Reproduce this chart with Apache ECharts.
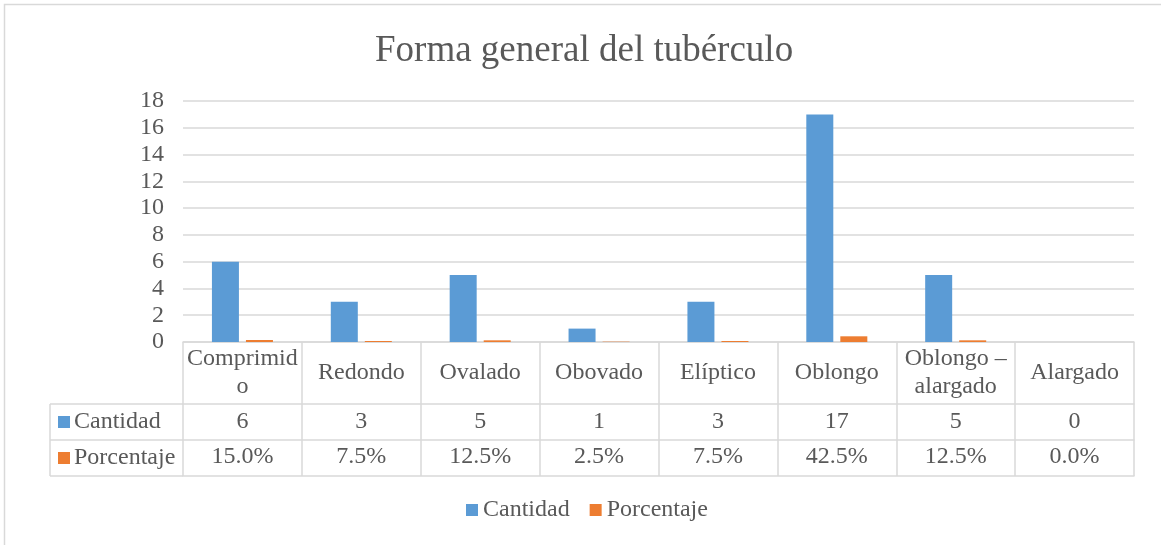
<!DOCTYPE html>
<html>
<head>
<meta charset="utf-8">
<script src="https://cdn.jsdelivr.net/npm/echarts@6/dist/echarts.min.js"></script>
<style>html,body{margin:0;padding:0;background:#fff}#c{width:1161px;height:545px}</style>
</head>
<body>
<div id="c"></div>
<script>
const categories = ['Comprimido', 'Redondo', 'Ovalado', 'Obovado', 'Elíptico', 'Oblongo', 'Oblongo – alargado', 'Alargado'];
const cantidad = [6, 3, 5, 1, 3, 17, 5, 0];
const porcentaje = [0.15, 0.075, 0.125, 0.025, 0.075, 0.425, 0.125, 0];
const yTicks = { min: 0, max: 18, interval: 2 };
const seriesNames = ['Cantidad', 'Porcentaje'];

const FONT = 'Liberation Serif';
const TXT = '#595959';
const LINE = '#D9D9D9';
const BLUE = '#5B9BD5';
const ORANGE = '#ED7D31';
const FS = 24;

const wrapLabel = v => v === 'Comprimido' ? 'Comprimid\no' : v.replace(' – ', ' –\n');
const pct = v => (v * 100).toFixed(1) + '%';

const chart = echarts.init(document.getElementById('c'), null, { renderer: 'canvas' });

const baseX = {
  type: 'category',
  data: categories,
  position: 'bottom',
  axisLine: { show: true, lineStyle: { color: LINE, width: 1.5 } },
  axisTick: { show: false },
  splitLine: { show: false }
};

chart.setOption({
  animation: false,
  backgroundColor: '#fff',
  textStyle: { fontFamily: FONT },
  title: {
    text: 'Forma general del tubérculo',
    left: 370,
    top: 28,
    textStyle: { fontFamily: FONT, fontSize: 37, fontWeight: 'normal', color: TXT }
  },
  legend: {
    top: 498,
    left: 466,
    padding: 0,
    icon: 'rect',
    itemWidth: 12,
    itemHeight: 12,
    itemGap: 20,
    data: seriesNames,
    textStyle: { fontFamily: FONT, fontSize: FS, color: TXT }
  },
  grid: { left: 183, right: 27, top: 101, bottom: 203, containLabel: false },
  xAxis: [
    Object.assign({}, baseX, {
      axisTick: { show: true, interval: 0, alignWithLabel: false, length: 134, lineStyle: { color: LINE, width: 1.5 } },
      axisLabel: {
        interval: 0, formatter: wrapLabel, fontFamily: FONT, fontSize: FS, color: TXT,
        verticalAlign: 'middle', margin: 31, lineHeight: 28
      }
    }),
    Object.assign({}, baseX, {
      offset: 62,
      axisLabel: {
        interval: 0, formatter: (v, i) => String(cantidad[i]), fontFamily: FONT, fontSize: FS, color: TXT,
        verticalAlign: 'middle', margin: 18
      }
    }),
    Object.assign({}, baseX, {
      offset: 98,
      axisLabel: {
        interval: 0, formatter: (v, i) => pct(porcentaje[i]), fontFamily: FONT, fontSize: FS, color: TXT,
        verticalAlign: 'middle', margin: 17
      }
    }),
    Object.assign({}, baseX, {
      offset: 134,
      axisLabel: { show: false }
    })
  ],
  yAxis: {
    type: 'value',
    min: yTicks.min, max: yTicks.max, interval: yTicks.interval,
    axisLine: { show: false },
    axisTick: { show: false },
    axisLabel: { fontFamily: FONT, fontSize: FS, color: TXT, margin: 19 },
    splitLine: { lineStyle: { color: LINE, width: 1.5 } }
  },
  series: [
    { name: seriesNames[0], type: 'bar', xAxisIndex: 0, data: cantidad, barWidth: 27, barGap: '26%', itemStyle: { color: BLUE } },
    { name: seriesNames[1], type: 'bar', xAxisIndex: 0, data: porcentaje, barWidth: 27, barGap: '26%', itemStyle: { color: ORANGE } }
  ],
  graphic: [
    { type: 'rect', shape: { x: 4.5, y: 4.5, width: 1200, height: 600 }, style: { fill: 'none', stroke: LINE, lineWidth: 1.5 }, silent: true },
    { type: 'line', shape: { x1: 50, y1: 404, x2: 183, y2: 404 }, style: { stroke: LINE, lineWidth: 1.5 } },
    { type: 'line', shape: { x1: 50, y1: 440, x2: 183, y2: 440 }, style: { stroke: LINE, lineWidth: 1.5 } },
    { type: 'line', shape: { x1: 50, y1: 476, x2: 183, y2: 476 }, style: { stroke: LINE, lineWidth: 1.5 } },
    { type: 'line', shape: { x1: 50, y1: 404, x2: 50, y2: 476 }, style: { stroke: LINE, lineWidth: 1.5 } },
    { type: 'rect', shape: { x: 58, y: 416, width: 12, height: 12 }, style: { fill: BLUE } },
    { type: 'rect', shape: { x: 58, y: 452, width: 12, height: 12 }, style: { fill: ORANGE } },
    { type: 'text', x: 74, y: 422, style: { text: seriesNames[0], font: FS + 'px "' + FONT + '"', fill: TXT, verticalAlign: 'middle' } },
    { type: 'text', x: 74, y: 458, style: { text: seriesNames[1], font: FS + 'px "' + FONT + '"', fill: TXT, verticalAlign: 'middle' } }
  ]
});
</script>
</body>
</html>
